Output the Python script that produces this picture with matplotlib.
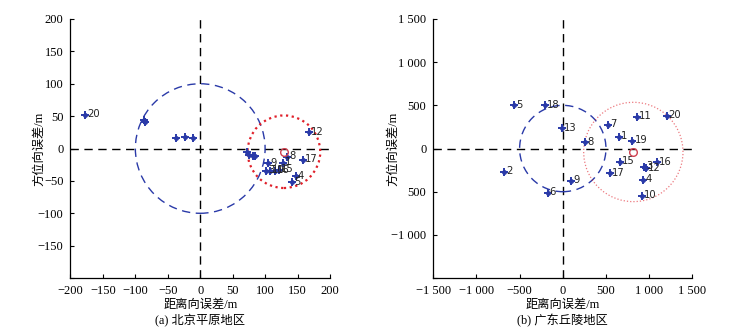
import matplotlib
matplotlib.use("agg")
import matplotlib.pyplot as plt
from matplotlib.patches import Circle

# (a) Beijing plain: range / azimuth errors (m)
a_x = [-178, -87, -85, -37, -24, -11, 72, 75, 81, 84, 105, 102, 108, 115, 121, 128, 134, 158, 168, 147, 142]
a_y = [52, 44, 41, 17, 18, 16, -6, -10, -11, -12, -23, -34, -35, -35, -33, -22, -13, -18, 25, -43, -52]
a_lbl = ["20", "", "", "", "", "", "", "", "", "", "9", "3", "10", "16", "15", "1", "8", "17", "12", "4", "5"]
a_center = (129, -5)
a_radius = 56
a_ref_radius = 100

# (b) Guangdong hills
b_x = [-560, -207, -6, 257, 523, 654, 855, 805, 1203, 658, 1087, 940, 965, 546, 932, 913, -678, 95, -176]
b_y = [500, 500, 234, 71, 276, 133, 365, 91, 376, -156, -160, -215, -230, -288, -365, -550, -272, -376, -512]
b_lbl = ["5", "18", "13", "8", "7", "1", "11", "19", "20", "15", "16", "3", "12", "17", "4", "10", "2", "9", "6"]
b_center = (817, -40)
b_radius = 575
b_ref_radius = 500

a_ticks = [-200, -150, -100, -50, 0, 50, 100, 150, 200]
a_xtl = ["\u2212200", "\u2212150", "\u2212100", "\u221250", "0", "50", "100", "150", "200"]
a_ytl = ["", "\u2212150", "\u2212100", "\u221250", "0", "50", "100", "150", "200"]
b_ticks = [-1500, -1000, -500, 0, 500, 1000, 1500]
b_xtl = ["\u22121 500", "\u22121 000", "\u2212500", "0", "500", "1 000", "1 500"]
b_ytl = ["", "\u22121 000", "500", "0", "500", "1 000", "1 500"]

SERIF = "Liberation Serif"
CJK = ["Liberation Serif", "Noto Sans CJK SC"]
BLUE = "#2a3aa8"

fig = plt.figure(figsize=(7.53, 3.33), dpi=100)
ax1 = fig.add_axes([0.0936, 0.165, 0.3446, 0.778])
ax2 = fig.add_axes([0.5754, 0.165, 0.344, 0.778])


def panel(ax, xs, ys, lbls, center, radius, ref_r, lim, ticks, xtl, ytl, caption,
          red_lw, red_alpha, ylab_x):
    ax.set_xlim(-lim, lim)
    ax.set_ylim(-lim, lim)
    ax.axhline(0, color="black", ls=(0, (6, 4)), lw=1.0, zorder=1)
    ax.axvline(0, color="black", ls=(0, (6, 4)), lw=1.0, zorder=1)
    ax.add_patch(Circle((0, 0), ref_r, fill=False, ec=BLUE, ls=(0, (6, 4)), lw=1.0, zorder=2))
    ax.add_patch(Circle(center, radius, fill=False, ec="#e0202a", ls=(0, (1, 1.6)),
                        lw=red_lw, alpha=red_alpha, zorder=2))
    ax.plot(xs, ys, ls="none", marker="+", ms=6, mew=1.4, color=BLUE, zorder=3)
    ax.plot(xs, ys, ls="none", marker="o", ms=2.5, color=BLUE, zorder=3)
    for x, y, t in zip(xs, ys, lbls):
        if t:
            ax.annotate(t, (x, y), xytext=(1.5, 0.5), textcoords="offset points",
                        fontsize=7.2, color="#222222", va="center", ha="left",
                        family="DejaVu Sans", zorder=4)
    ax.plot([center[0]], [center[1]], ls="none", marker="o", ms=5.5, mfc="none",
            mec="#d04050", mew=1.0, zorder=4)
    ax.set_xticks(ticks)
    ax.set_yticks(ticks)
    ax.set_xticklabels(xtl, family=SERIF, fontsize=9)
    ax.set_yticklabels(ytl, family=SERIF, fontsize=9)
    ax.tick_params(direction="in", length=3, width=0.8, pad=5)
    for s in ("top", "right"):
        ax.spines[s].set_visible(False)
    for s in ("left", "bottom"):
        ax.spines[s].set_linewidth(0.9)
    ax.set_xlabel("距离向误差/m", family=CJK, fontsize=8.8, labelpad=1)
    ax.set_ylabel("方位向误差/m", family=CJK, fontsize=8.8, va="center")
    ax.yaxis.set_label_coords(ylab_x, 0.5)
    ax.text(0.5, -0.165, caption, transform=ax.transAxes, ha="center", va="center",
            family=CJK, fontsize=8.8)


panel(ax1, a_x, a_y, a_lbl, a_center, a_radius, a_ref_radius, 200, a_ticks, a_xtl, a_ytl,
      "(a) 北京平原地区", 1.6, 1.0, -0.121)
panel(ax2, b_x, b_y, b_lbl, b_center, b_radius, b_ref_radius, 1500, b_ticks, b_xtl, b_ytl,
      "(b) 广东丘陵地区", 0.9, 0.6, -0.156)

fig.savefig("out.png", dpi=100)
